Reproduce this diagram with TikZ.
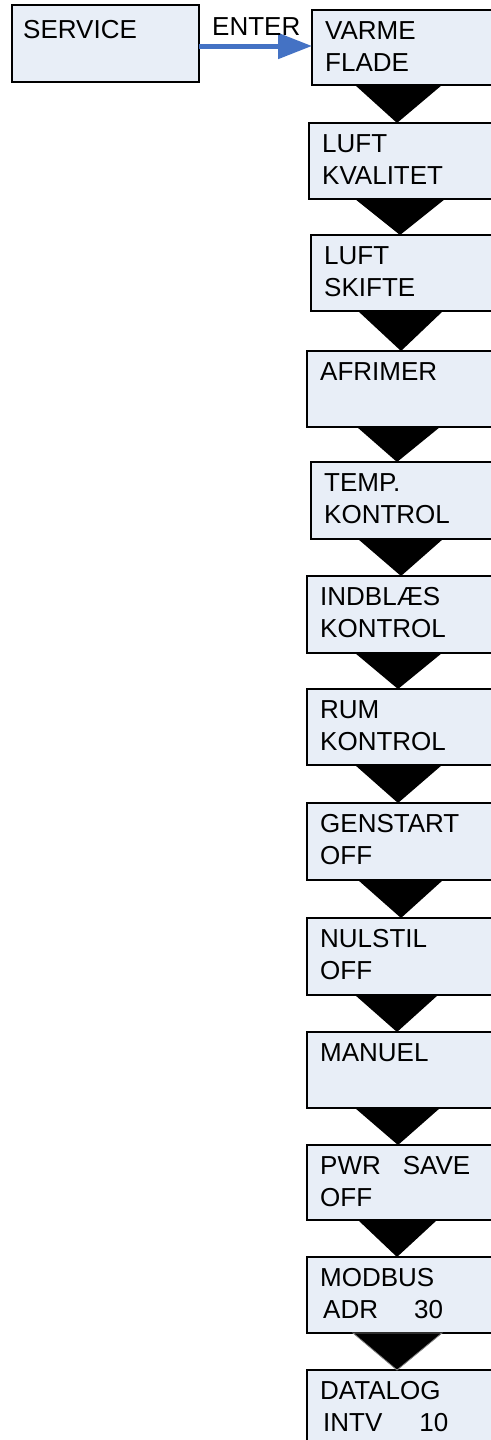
\documentclass[tikz,border=0pt]{standalone}
\usepackage{fontspec}
\setmainfont{Liberation Sans}
\usetikzlibrary{calc,arrows.meta}
\definecolor{boxfill}{RGB}{232,238,247}
\definecolor{arrowblue}{RGB}{68,114,196}
\begin{document}
\begin{tikzpicture}[x=1pt,y=-1pt,
  box/.style={draw=black, line width=2.6pt, fill=boxfill, anchor=north west,
    minimum width=200pt, inner sep=0pt, outer sep=0pt},
  txt/.style={anchor=base west, inner sep=0pt, font=\fontsize{26}{32}\selectfont},
  tri/.style={fill=black},
  enterarrow/.style={draw=arrowblue, line width=5pt,
    -{Triangle[length=34pt,width=25pt]}}]
\useasboundingbox (0,0) rectangle (490,1440);
% SERVICE box
\node[box, minimum width=187pt, minimum height=77pt] (svc) at (12,5) {};
\node[txt] (svct) at (23,38) {SERVICE};
% menu boxes
\foreach \n/\x/\t/\h/\la/\lb in {
  1/312/10/75/VARME/FLADE,
  2/309/123/76/LUFT/KVALITET,
  3/311/235/76/LUFT/SKIFTE,
  4/307/351/76/AFRIMER/{},
  5/311/462/77/TEMP./KONTROL,
  6/307/576/77/INDBLÆS/KONTROL,
  7/307/689/76/RUM/KONTROL,
  8/307/803/77/GENSTART/OFF,
  9/307/918/77/NULSTIL/OFF,
  10/307/1032/76/MANUEL/{},
  11/307/1145/75/{PWR\hspace{22pt}SAVE}/OFF,
  12/307/1257/76/MODBUS/{\hspace{3pt}ADR\hspace{36pt}30},
  13/307/1370/90/DATALOG/{\hspace{3pt}INTV\hspace{37pt}10}} {
  \node[box, minimum height=\h pt] (b\n) at (\x,\t) {};
  \node[txt] (l\n a) at ($(b\n.north west)+(13,29)$) {\la};
  \node[txt] (l\n b) at ($(b\n.north west)+(13,61)$) {\lb};
}
% ENTER arrow
\draw[enterarrow] ($(svc.east)+(0,2.5)$) coordinate (a0) -- (a0 -| b1.west);
\node[txt] (enter) at (212,35) {ENTER};
% triangles
\foreach \a/\b/\l/\r/\p in {
  1/2/355/442/397,
  2/3/355/445/400,
  3/4/358/443/401,
  4/5/357/440/397,
  5/6/358/443/401,
  6/7/355/442/398,
  7/8/355/442/398,
  8/9/358/443/401,
  9/10/355/438/397,
  10/11/355/440/398,
  11/12/358/437/397} {
  \fill[tri] (\l,0 |- b\a.south) -- (\r,0 |- b\a.south) -- (\p,0 |- b\b.north) -- cycle;
}
\filldraw[fill=black, draw=gray, line width=0.8pt]
  (353,0 |- b12.south) -- (442,0 |- b12.south) -- (397,0 |- b13.north) -- cycle;
\end{tikzpicture}
\end{document}
